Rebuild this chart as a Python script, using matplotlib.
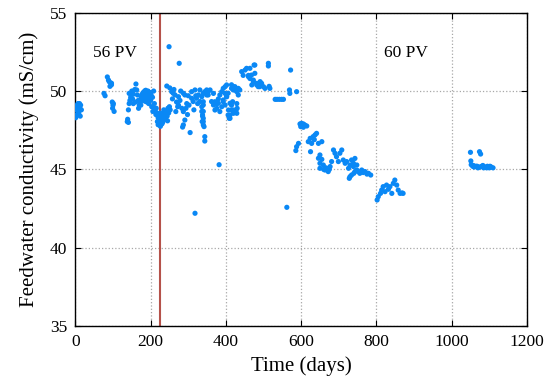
import matplotlib
matplotlib.use("Agg")
import matplotlib.pyplot as plt
import numpy as np

# ---- data (days, conductivity mS/cm) ----
days_a = [0, 2, 3, 5, 7, 8, 10, 12, 14, 16, 4, 9, 13, 1, 6, 11]
cond_a = [48.9, 49.0, 48.8, 49.1, 49.2, 48.7, 49.0, 48.9, 49.1, 48.8, 48.5, 48.6, 48.4, 48.3, 48.5, 49.2]

days_b = [76, 79, 85, 88, 90, 92, 94, 96, 98, 100, 99, 103, 101, 96]
cond_b = [49.85, 49.7, 50.9, 50.7, 50.6, 50.3, 50.5, 50.5, 49.3, 49.1, 48.9, 48.7, 49.2, 50.4]

days_c = [139, 141, 141, 143, 145, 147, 150, 154, 158, 161, 165, 167, 170, 172, 152, 160, 163,
          168, 175, 143, 154, 174, 138]
cond_c = [48.2, 48.0, 48.8, 49.2, 49.4, 49.6, 50.0, 49.8, 50.1, 50.45, 49.75, 49.4, 49.1, 49.2, 49.5,
          49.3, 50.07, 48.9, 49.6, 49.85, 49.2, 49.1, 48.05]

days_d = [176, 178, 180, 182, 184, 186, 188, 190, 192, 194, 196, 198, 200, 202, 185, 190, 195,
          200, 205, 180, 208, 210, 187, 193, 199]
cond_d = [49.5, 49.8, 49.9, 49.6, 50.0, 49.7, 49.9, 49.75, 49.5, 49.95, 49.8, 49.6, 49.9, 49.7,
          49.35, 49.3, 49.2, 49.4, 49.6, 49.4, 50.0, 49.2, 50.05, 50.0, 49.85]

days_e = [203, 206, 210, 212, 214, 216, 218, 220, 222, 224, 226, 228, 230, 232, 234, 236, 238,
          240, 242, 244, 246, 248, 250, 252, 215, 225, 230, 235, 220, 245]
cond_e = [49.0, 48.7, 48.9, 48.8, 48.5, 48.6, 48.05, 48.3, 48.4, 48.1, 47.75, 48.2, 48.4, 48.0,
          48.6, 48.3, 48.5, 48.2, 48.7, 48.4, 48.9, 48.6, 49.0, 48.8, 48.9, 48.6, 47.9, 48.8,
          47.85, 48.1]

days_f = [249, 276, 243, 251, 256, 260, 265, 274, 287, 291, 269, 278, 274, 283, 287, 267, 291,
          287, 285, 305, 309, 313, 322, 309, 318, 327, 336, 338, 340, 337, 340, 344, 344, 340,
          331, 318, 300, 296, 280, 262, 258, 272, 294, 302, 315, 325, 298, 320]
cond_f = [52.83, 51.77, 50.32, 50.2, 49.96, 49.86, 49.75, 49.64, 49.86, 49.75, 49.3, 49.4, 49.1,
          48.9, 48.69, 48.69, 48.15, 47.84, 47.7, 47.35, 49.54, 49.33, 49.54, 49.96, 50.07,
          49.75, 48.7, 48.47, 48.26, 48.05, 47.84, 47.09, 46.81, 49.11, 49.33, 42.2, 49.7,
          49.2, 50.0, 50.1, 49.5, 49.0, 48.9, 49.1, 48.8, 49.2, 48.5, 49.7]

days_g = [331, 336, 340, 344, 349, 353, 340, 336, 340, 338, 340, 342, 353, 358, 349, 362, 367,
          376, 380, 371, 384, 389, 398, 393, 402, 406, 398, 402, 415, 420, 424, 411, 415, 420,
          411, 406, 382]
cond_g = [50.07, 49.64, 49.85, 49.96, 50.07, 49.75, 49.32, 49.0, 48.7, 48.4, 48.05, 47.73, 49.96,
          50.07, 49.75, 49.33, 49.11, 48.9, 49.22, 48.79, 48.69, 49.0, 49.11, 49.43, 49.64,
          49.86, 50.28, 50.39, 50.17, 50.28, 50.07, 49.22, 48.79, 48.58, 48.26, 48.47, 45.3]

days_h = [367, 371, 376, 380, 384, 389, 393, 398, 402, 393, 407, 411, 415, 420, 424, 429, 433,
          437, 429, 430, 429, 409, 420, 415, 424, 429, 418, 427, 433]
cond_h = [49.85, 49.32, 49.2, 49.5, 49.75, 49.96, 50.17, 49.85, 49.64, 49.32, 48.79, 48.47, 49.1,
          50.07, 50.17, 49.96, 49.75, 50.07, 49.2, 48.9, 48.58, 48.26, 48.79, 50.4, 50.28,
          50.07, 49.32, 48.79, 50.17]

days_i = [442, 446, 451, 455, 460, 464, 464, 469, 473, 475, 477, 482, 486, 490, 491, 495, 500,
          504, 513, 513, 515, 517, 468, 460, 477, 482, 473]
cond_i = [51.24, 51.0, 51.34, 51.45, 51.0, 50.8, 51.45, 50.39, 50.6, 51.66, 51.66, 50.49, 50.28,
          50.28, 50.6, 50.49, 50.28, 50.17, 51.77, 51.6, 50.3, 50.17, 51.02, 50.92, 51.13,
          50.39, 50.7]

days_j = [531, 536, 542, 548, 553, 572, 569, 570, 588, 562]
cond_j = [49.47, 49.47, 49.47, 49.47, 49.47, 51.34, 50.07, 49.85, 49.96, 42.58]

days_k = [597, 601, 606, 610, 615, 599, 606, 603, 588, 593, 586, 619, 624, 632, 637, 641, 628,
          646, 655, 625, 635]
cond_k = [47.9, 47.94, 47.9, 47.83, 47.77, 47.73, 47.69, 47.8, 46.45, 46.66, 46.2, 46.77, 46.98,
          47.09, 47.2, 47.3, 46.66, 46.66, 46.77, 46.13, 46.9]

days_l = [650, 646, 655, 650, 659, 668, 663, 650, 677, 681, 672, 686, 690, 694, 703, 708, 699,
          712, 717, 721, 730, 726, 739, 743, 748, 734, 728, 660, 665, 675]
cond_l = [45.92, 45.71, 45.64, 45.39, 45.28, 45.07, 44.96, 45.07, 45.18, 45.5, 44.86, 46.24,
          46.03, 45.81, 46.03, 46.24, 45.5, 45.6, 45.39, 45.5, 45.28, 45.07, 45.18, 44.86,
          44.96, 44.64, 44.43, 45.0, 45.1, 45.0]

days_m = [734, 743, 739, 748, 752, 761, 770, 779, 785, 730, 740, 756, 765, 775]
cond_m = [45.6, 45.7, 45.39, 45.28, 44.86, 44.96, 44.86, 44.75, 44.64, 44.54, 44.75, 44.75,
          44.8, 44.7]

days_n = [805, 802, 814, 818, 827, 836, 845, 849, 854, 858, 863, 841, 823, 832, 811, 868, 871]
cond_n = [43.26, 43.05, 43.68, 43.9, 44.0, 43.9, 44.11, 44.32, 44.0, 43.68, 43.47, 43.47, 43.58,
          43.73, 43.47, 43.5, 43.47]

days_o = [1050, 1074, 1077, 1051, 1052, 1056, 1060, 1065, 1070, 1075, 1080, 1085, 1090, 1095,
          1100, 1105, 1110, 1058, 1068, 1083, 1093, 1102]
cond_o = [46.09, 46.13, 45.98, 45.54, 45.3, 45.2, 45.15, 45.2, 45.1, 45.15, 45.2, 45.1, 45.15,
          45.2, 45.1, 45.15, 45.1, 45.25, 45.2, 45.25, 45.1, 45.2]

switch_day = 226
labels = ["56 PV", "60 PV"]

days = days_a + days_b + days_c + days_d + days_e + days_f + days_g + days_h + days_i + \
    days_j + days_k + days_l + days_m + days_n + days_o
cond = cond_a + cond_b + cond_c + cond_d + cond_e + cond_f + cond_g + cond_h + cond_i + \
    cond_j + cond_k + cond_l + cond_m + cond_n + cond_o

plt.rcParams['font.family'] = ['Liberation Serif', 'DejaVu Serif']

fig = plt.figure(figsize=(5.5, 3.85), dpi=100)
ax = fig.add_axes([0.137, 0.153, 0.821, 0.814])

ax.grid(True, linestyle=':', color='#a8a8a8', linewidth=0.9)
ax.set_axisbelow(True)
ax.axvline(switch_day, color='#b5524a', linewidth=1.5, zorder=2)
ax.scatter(days, cond, s=14, color='#0a88f5', edgecolors='none', zorder=3)

ax.set_xlim(0, 1200)
ax.set_ylim(35, 55)
ax.set_xticks(np.arange(0, 1201, 200))
ax.set_yticks(np.arange(35, 56, 5))
ax.tick_params(direction='in', labelsize=12.5, top=True, right=True, length=4, pad=6)
for s in ax.spines.values():
    s.set_linewidth(1.0)

ax.set_xlabel("Time (days)", fontsize=15, labelpad=4)
ax.set_ylabel("Feedwater conductivity (mS/cm)", fontsize=15, labelpad=8)

ax.text(105, 52.4, labels[0], fontsize=12.5, ha='center', va='center')
ax.text(879, 52.4, labels[1], fontsize=12.5, ha='center', va='center')

fig.savefig("out.png", dpi=100)
